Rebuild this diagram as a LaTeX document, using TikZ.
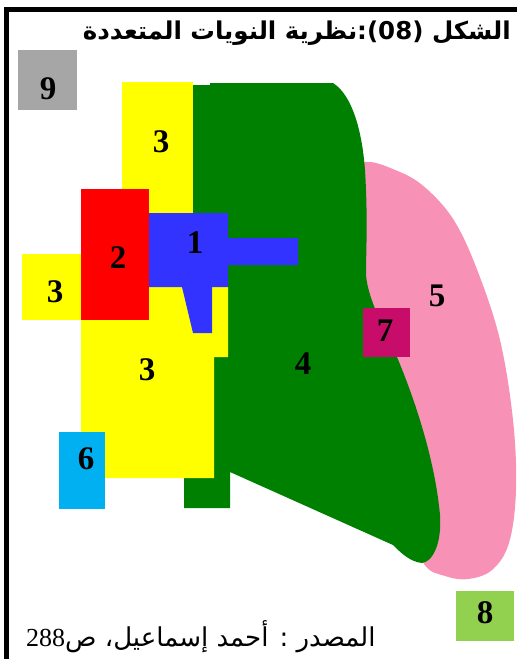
\documentclass[tikz,border=0pt]{standalone}
\usepackage{fontspec}
\setmainfont{Liberation Serif}
\newfontfamily\arabicfont[Script=Arabic]{DejaVu Sans}
\TeXXeTstate=1
\usepackage{tikz}
\definecolor{nucleusblue}{HTML}{3333FF}
\definecolor{cbdred}{HTML}{FF0000}
\definecolor{lightyellow}{HTML}{FFFF00}
\definecolor{heavygreen}{HTML}{008000}
\definecolor{resipink}{HTML}{F792B6}
\definecolor{suburbmag}{HTML}{C80C6A}
\definecolor{skyblue}{HTML}{00B0F0}
\definecolor{leafgreen}{HTML}{92D050}
\definecolor{greybox}{HTML}{A6A6A6}

\begin{document}
\begin{tikzpicture}[x=1pt, y=-1pt]
        \def\numfont{\fontsize{33}{33}\selectfont\bfseries}

        \useasboundingbox (0, 0) rectangle (517, 659);

        % frame
        \fill [black] (4, 7) rectangle (517, 12);
        \fill [black] (4, 7) rectangle (9, 659);

        % residential zone
        \fill [resipink] plot [smooth cycle, tension=0.6] coordinates {
            (362, 163) (400, 172) (428, 190) (455, 222) (478, 272)
            (500, 340) (513, 420) (516, 490) (509, 543) (492, 570)
            (468, 579) (445, 576) (424, 564) (408, 520) (380, 400)
            (352, 300) (352, 200)
        };

        % heavy industry
        \fill [heavygreen]
            (193, 85) -- (210, 85) -- (210, 83) -- (333, 83)
            .. controls (352, 95) and (362, 130) .. (365, 170)
            .. controls (368, 220) and (366, 250) .. (366, 275)
            .. controls (368, 300) and (385, 330) .. (397, 357)
            .. controls (415, 400) and (435, 460) .. (440, 515)
            .. controls (442, 545) and (432, 562) .. (422, 563)
            .. controls (410, 562) and (400, 552) .. (393, 545)
            -- (230, 472) -- (230, 508) -- (184, 508) -- (184, 300)
            -- (193, 300) -- cycle;

        % light industry
        \fill [lightyellow] (122, 82) rectangle (193, 300);
        \fill [lightyellow] (22, 254) rectangle (90, 320);
        \fill [lightyellow] (81, 287) -- (228, 287) -- (228, 357)
            -- (214, 357) -- (214, 478) -- (81, 478) -- cycle;

        % centre
        \fill [cbdred] (81, 189) rectangle (149, 320);
        \fill [nucleusblue] (149, 213) -- (228, 213) -- (228, 238)
            -- (298, 238) -- (298, 265) -- (228, 265) -- (228, 287)
            -- (212, 287) -- (212, 333) -- (193, 333) -- (182, 287)
            -- (149, 287) -- cycle;

        % small boxes
        \fill [suburbmag] (363, 308) rectangle (410, 357);
        \fill [skyblue] (59, 432) rectangle (105, 509);
        \fill [leafgreen] (456, 591) rectangle (514, 641);
        \fill [greybox] (18, 50) rectangle (77, 110);

        % numbers
        \node [font=\numfont] (nine) at (48, 89) {9};
        \node [font=\numfont] (threeA) at (161, 142) {3};
        \node [font=\numfont] (two) at (118, 258) {2};
        \node [font=\numfont] (one) at (195, 243) {1};
        \node [font=\numfont] (threeB) at (55, 292) {3};
        \node [font=\numfont] (threeC) at (147, 370) {3};
        \node [font=\numfont] (four) at (303, 364) {4};
        \node [font=\numfont] (five) at (437, 296) {5};
        \node [font=\numfont] (seven) at (385, 331) {7};
        \node [font=\numfont] (six) at (86, 459) {6};
        \node [font=\numfont] (eight) at (485, 613) {8};

        % title and source
        \node [anchor=east, inner sep=0pt] (title) at (511, 33)
            {\fontsize{24.5}{24.5}\selectfont\arabicfont\bfseries
             \beginR الشكل (08):نظرية النويات المتعددة\endR};
        \node [anchor=west, inner sep=0pt] (source) at (26, 637)
            {\fontsize{26}{26}\selectfont\arabicfont
             \beginR المصدر : أحمد إسماعيل، ص\beginL{\rmfamily 288}\endL\endR};
    \end{tikzpicture}
\end{document}
